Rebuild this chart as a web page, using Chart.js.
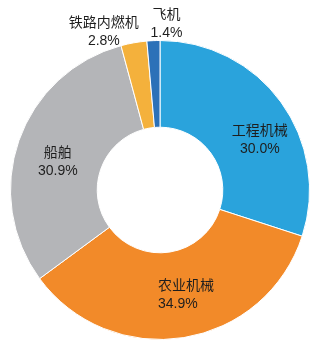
<!DOCTYPE html>
<html>
<head>
<meta charset="utf-8">
<script src="https://cdn.jsdelivr.net/npm/chart.js@4/dist/chart.umd.min.js"></script>
<style>
  html, body { margin: 0; padding: 0; background: #fff; }
</style>
</head>
<body>
<canvas id="pieChart" width="320" height="344"></canvas>
<script>
// data
var categories = ['工程机械', '农业机械', '船舶', '铁路内燃机', '飞机'];
var shares = [30.0, 34.9, 30.9, 2.8, 1.4];
var colors = ['#2aa3dc', '#f28a29', '#b4b5b8', '#f4b13c', '#2c71b8'];

// small slices get their label outside the ring, above the top
var outsideShift = { 3: [-30, -20], 4: [13, -26] };

var labelPlugin = {
    id: 'sliceLabels',
    afterDatasetsDraw: function (chart) {
        var ctx = chart.ctx;
        var meta = chart.getDatasetMeta(0);
        ctx.save();
        ctx.fillStyle = '#1e1e1e';
        ctx.font = '14px "Liberation Sans", "Noto Sans CJK SC", sans-serif';
        ctx.textAlign = 'center';
        ctx.textBaseline = 'middle';
        meta.data.forEach(function (arc, i) {
            var name = categories[i];
            var value = shares[i].toFixed(1) + '%';
            var x, y;
            ctx.textAlign = 'center';
            if (outsideShift[i]) {
                var mid = (arc.startAngle + arc.endAngle) / 2;
                x = arc.x + Math.cos(mid) * arc.outerRadius + outsideShift[i][0];
                y = arc.y + Math.sin(mid) * arc.outerRadius + outsideShift[i][1];
            } else {
                var p = arc.tooltipPosition();
                x = p.x;
                y = p.y - 9;
                if (i == 0) { x += 14; y += 13; }
                if (i == 1) { x -= 19; ctx.textAlign = 'left'; }
                if (i == 2) { x -= 2; y += 7; }
            }
            ctx.fillText(name, x, y);
            ctx.fillText(value, x, y + 18);
        });
        ctx.restore();
    }
};

var ctx = document.getElementById('pieChart');
var pieChart = new Chart(ctx, {
    type: 'doughnut',
    data: {
        labels: categories,
        datasets: [{
            data: shares,
            backgroundColor: colors,
            borderColor: '#ffffff',
            borderWidth: 1
        }]
    },
    options: {
        responsive: false,
        animation: false,
        cutout: '42%',
        layout: { padding: { top: 38, bottom: 2, left: 10, right: 10 } },
        plugins: {
            legend: { display: false },
            tooltip: { enabled: false }
        }
    },
    plugins: [labelPlugin]
});
</script>
</body>
</html>
